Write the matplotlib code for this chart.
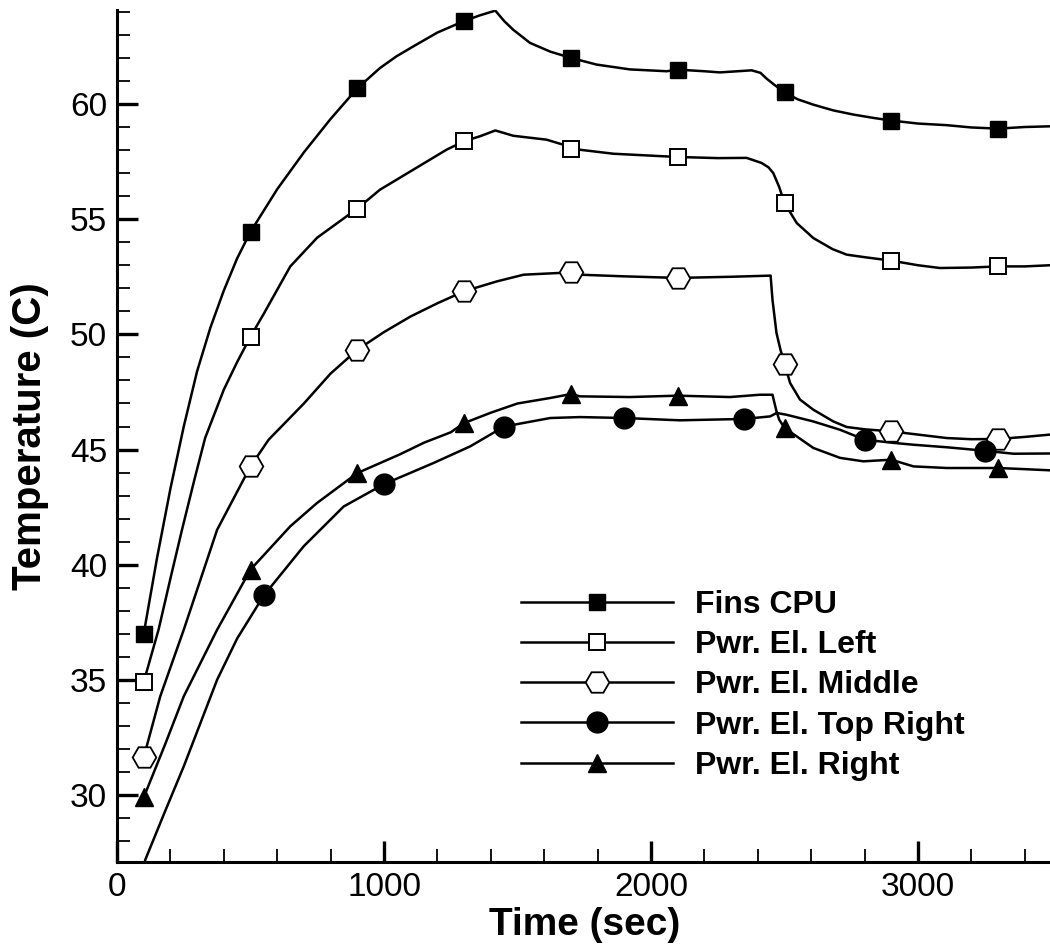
import numpy as np
import matplotlib
matplotlib.use("Agg")
import matplotlib.pyplot as plt
from matplotlib.lines import Line2D
from matplotlib.ticker import MultipleLocator

plt.rcParams['font.family'] = ['Liberation Sans', 'DejaVu Sans']

# ---------------- data ----------------
t_fins = [100, 150, 200, 250, 300, 350, 400, 450, 500, 600, 700, 800, 900, 985, 1047, 1110,
          1200, 1300, 1360, 1417, 1450, 1484, 1547, 1623, 1700, 1796, 1921, 2059, 2100, 2200,
          2258, 2377, 2410, 2433, 2460, 2500, 2550, 2608, 2683, 2758, 2830, 2900, 3000, 3107,
          3200, 3300, 3400, 3494]
T_fins = [37.0, 40.3, 43.3, 46.0, 48.4, 50.3, 51.9, 53.3, 54.45, 56.3, 57.9, 59.35, 60.68, 61.56,
          62.07, 62.5, 63.1, 63.6, 63.85, 64.05, 63.6, 63.22, 62.65, 62.27, 62.0, 61.71, 61.5,
          61.42, 61.49, 61.42, 61.37, 61.46, 61.35, 61.1, 60.85, 60.5, 60.2, 59.97, 59.72, 59.54,
          59.4, 59.28, 59.15, 59.08, 58.98, 58.93, 59.0, 59.03]
mk_fins = [100, 500, 900, 1300, 1700, 2100, 2500, 2900, 3300]

t_left = [100, 156, 200, 243, 290, 330, 400, 450, 500, 550, 649, 750, 900, 985, 1110, 1235,
          1300, 1360, 1417, 1484, 1609, 1672, 1700, 1859, 2046, 2100, 2250, 2358, 2414, 2440,
          2458, 2480, 2500, 2546, 2608, 2680, 2733, 2800, 2900, 3000, 3082, 3200, 3300, 3400, 3494]
T_left = [34.91, 37.2, 39.4, 41.5, 43.7, 45.5, 47.6, 48.8, 49.9, 50.9, 52.95, 54.2, 55.46, 56.28,
          57.15, 58.02, 58.38, 58.6, 58.85, 58.62, 58.45, 58.23, 58.06, 57.84, 57.73, 57.7,
          57.65, 57.66, 57.44, 57.25, 57.0, 56.4, 55.7, 54.83, 54.18, 53.7, 53.46, 53.35, 53.2,
          53.0, 52.88, 52.9, 52.95, 52.95, 53.0]
mk_left = [100, 500, 900, 1300, 1700, 2100, 2500, 2900, 3300]

t_mid = [100, 162, 250, 375, 500, 568, 700, 800, 900, 1000, 1100, 1200, 1300, 1423, 1523, 1700,
         1734, 1896, 2100, 2300, 2448, 2455, 2470, 2485, 2500, 2521, 2558, 2608, 2683, 2733,
         2800, 2900, 3000, 3108, 3200, 3300, 3400, 3494]
T_mid = [31.64, 34.29, 37.18, 41.52, 44.27, 45.43, 47.0, 48.3, 49.33, 50.1, 50.78, 51.35, 51.87,
         52.3, 52.59, 52.69, 52.59, 52.52, 52.45, 52.5, 52.55, 51.5, 50.06, 49.33, 48.73, 47.89,
         47.17, 46.73, 46.22, 45.98, 45.88, 45.79, 45.65, 45.5, 45.45, 45.46, 45.55, 45.65]
mk_mid = [100, 500, 900, 1300, 1700, 2100, 2500, 2900, 3300]

t_topr = [100, 106, 180, 250, 375, 450, 550, 699, 849, 1000, 1186, 1323, 1450, 1623, 1734, 1900,
          2108, 2350, 2446, 2471, 2508, 2608, 2708, 2800, 2900, 2983, 3108, 3250, 3357, 3494]
T_topr = [26.95, 27.2, 29.3, 31.25, 35.01, 36.8, 38.67, 40.8, 42.53, 43.5, 44.42, 45.14, 46.0,
          46.37, 46.41, 46.37, 46.27, 46.33, 46.44, 46.59, 46.51, 46.22, 45.86, 45.43, 45.3,
          45.21, 45.1, 44.95, 44.82, 44.83]
mk_topr = [550, 1000, 1450, 1900, 2350, 2800, 3250]

t_right = [100, 180, 250, 375, 500, 649, 749, 900, 1061, 1150, 1250, 1300, 1400, 1500, 1623,
           1700, 1734, 1921, 2100, 2296, 2408, 2455, 2470, 2480, 2500, 2546, 2608, 2708, 2795,
           2900, 2983, 3108, 3300, 3400, 3494]
T_right = [29.9, 32.2, 34.29, 37.18, 39.79, 41.67, 42.68, 43.98, 44.8, 45.3, 45.75, 46.15, 46.6,
           47.0, 47.24, 47.41, 47.31, 47.28, 47.34, 47.28, 47.38, 47.38, 46.66, 46.3, 45.94,
           45.57, 45.07, 44.64, 44.49, 44.56, 44.27, 44.2, 44.2, 44.15, 44.1]
mk_right = [100, 500, 900, 1300, 1700, 2100, 2500, 2900, 3300]

labels = ["Fins CPU", "Pwr. El. Left", "Pwr. El. Middle", "Pwr. El. Top Right", "Pwr. El. Right"]

# ---------------- figure ----------------
fig = plt.figure(figsize=(10.5, 9.44), dpi=100)
ax = fig.add_axes([117/1050, 82/944, 934.5/1050, 852.5/944])

LW = 1.8
styles = [
    dict(marker='s', ms=11.5, mfc='black', mec='black', mew=1.0),
    dict(marker='s', ms=11.5, mfc='white', mec='black', mew=1.4),
    dict(marker='H', ms=17, mfc='white', mec='black', mew=1.3),
    dict(marker='o', ms=15, mfc='black', mec='black', mew=1.0),
    dict(marker='^', ms=13, mfc='black', mec='black', mew=1.0),
]
series = [(t_fins, T_fins, mk_fins), (t_left, T_left, mk_left), (t_mid, T_mid, mk_mid),
          (t_topr, T_topr, mk_topr), (t_right, T_right, mk_right)]

for (t, T, mk), st in zip(series, styles):
    t = np.asarray(t, float)
    T = np.asarray(T, float)
    ax.plot(t, T, color='black', lw=LW, zorder=2)
    sel = np.isin(t, mk)
    ax.plot(t[sel], T[sel], ls='none', zorder=3, **st)

ax.set_xlim(0, 3500)
ax.set_ylim(27.1, 64.1)

for s in ['top', 'right']:
    ax.spines[s].set_visible(False)
for s in ['left', 'bottom']:
    ax.spines[s].set_linewidth(2.2)

ax.xaxis.set_major_locator(MultipleLocator(1000))
ax.xaxis.set_minor_locator(MultipleLocator(200))
ax.yaxis.set_major_locator(MultipleLocator(5))
ax.yaxis.set_minor_locator(MultipleLocator(1))
ax.tick_params(which='major', direction='in', length=15, width=2.4, labelsize=24, pad=7,
               top=False, right=False)
ax.tick_params(which='minor', direction='in', length=9.5, width=1.3, top=False, right=False)

ax.set_xlabel("Time (sec)", fontsize=28, fontweight='bold', va='baseline')
ax.xaxis.set_label_coords((585 - 117) / 934.5, (862 - 935) / 852.5)
ax.set_ylabel("Temperature (C)", fontsize=29, fontweight='bold', va='center')
ax.yaxis.set_label_coords((30 - 117) / 934.5, 0.5)

handles = [Line2D([], [], color='black', lw=LW, **st) for st in styles]
ax.legend(handles, labels, loc='upper left', bbox_to_anchor=(521/1050, 1 - 590/944),
          bbox_transform=fig.transFigure, frameon=False, numpoints=1,
          prop=dict(family='Liberation Sans', weight='bold', size=23),
          handlelength=4.76, handletextpad=0.69, labelspacing=0.32,
          borderpad=0, borderaxespad=0)

fig.savefig("out.png", dpi=100)
